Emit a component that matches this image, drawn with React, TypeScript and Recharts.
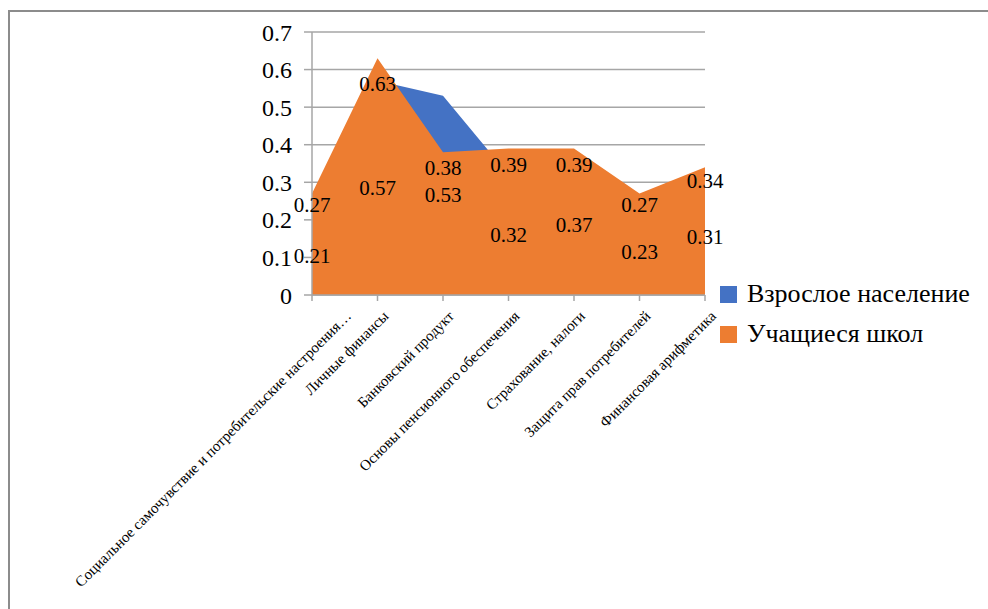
import { Area, AreaChart, CartesianGrid, LabelList, XAxis, YAxis } from "recharts";

const categories = [
  "Социальное самочувствие и потребительские настроения…",
  "Личные финансы",
  "Банковский продукт",
  "Основы пенсионного обеспечения",
  "Страхование, налоги",
  "Защита прав потребителей",
  "Финансовая арифметика",
];
const adults = [0.21, 0.57, 0.53, 0.32, 0.37, 0.23, 0.31];
const students = [0.27, 0.63, 0.38, 0.39, 0.39, 0.27, 0.34];
const yTicks = [0, 0.1, 0.2, 0.3, 0.4, 0.5, 0.6, 0.7];

const seriesNames = ["Взрослое население", "Учащиеся школ"];
const BLUE = "#4472C4";
const ORANGE = "#ED7D31";
const GRAY = "#a6a6a6";
const FONT =
  '"Times New Roman", Times, Tinos, "Liberation Serif", "Noto Serif", "DejaVu Serif", serif';

const W = 988;
const H = 609;
const PLOT_TOP = 32;
const PLOT_BOTTOM = 295;
const PLOT_LEFT = 312;
const PLOT_RIGHT = 705;
const X_AXIS_H = 300;

const data = categories.map((name, i) => ({
  name,
  adults: adults[i],
  students: students[i],
}));

// Excel puts area labels somewhere inside the filled area; approximate by a fraction of height
function makeLabel(frac: number) {
  return (props: any) => {
    const x = props.x ?? props.viewBox?.x;
    const y = props.y ?? props.viewBox?.y;
    if (x == null || y == null) return null;
    const ly = PLOT_BOTTOM - (PLOT_BOTTOM - y) * frac;
    return (
      <text
        x={x}
        y={ly}
        textAnchor="middle"
        dominantBaseline="central"
        style={{ fontSize: 21, fontFamily: FONT }}
        fill="#000"
      >
        {props.value}
      </text>
    );
  };
}

function CategoryTick(props: any) {
  const { x, y, payload, index } = props;
  const ax = x + 12 + (index === 0 ? 28 : 0);
  const ay = y + 16;
  return (
    <text
      x={ax}
      y={ay}
      transform={`rotate(-45, ${ax}, ${ay})`}
      textAnchor="end"
      style={{ fontSize: 15, fontFamily: FONT }}
      fill="#000"
    >
      {payload.value}
    </text>
  );
}

export default function App() {
  return (
    <div
      style={{
        position: "absolute",
        left: 0,
        top: 0,
        width: W,
        height: H,
        background: "#fff",
        fontFamily: FONT,
        overflow: "hidden",
      }}
    >
      <div
        style={{
          position: "absolute",
          left: 8,
          top: 10,
          right: -4,
          bottom: -4,
          borderTop: "2px solid #8c8c8c",
          borderLeft: "2px solid #8c8c8c",
        }}
      />
      <div style={{ position: "absolute", left: 0, top: 0 }}>
        <AreaChart
          width={W}
          height={H}
          data={data}
          style={{ fontFamily: FONT }}
          margin={{
            top: PLOT_TOP,
            right: W - PLOT_RIGHT,
            bottom: H - PLOT_BOTTOM - X_AXIS_H,
            left: 0,
          }}
        >
          <CartesianGrid vertical={false} stroke={GRAY} strokeWidth={1.5} />
          <XAxis
            dataKey="name"
            interval={0}
            height={X_AXIS_H}
            tickSize={6}
            tickMargin={0}
            stroke={GRAY}
            strokeWidth={1.5}
            tick={<CategoryTick />}
          />
          <YAxis
            width={PLOT_LEFT}
            domain={[0, 0.7]}
            ticks={yTicks}
            tickSize={8}
            tickMargin={12}
            stroke={GRAY}
            strokeWidth={1.5}
            tick={{ fontSize: 24, fill: "#000", fontFamily: FONT }}
          />
          <Area
            type="linear"
            dataKey="adults"
            name={seriesNames[0]}
            fill={BLUE}
            fillOpacity={1}
            stroke="none"
            dot={false}
            activeDot={false}
            isAnimationActive={false}
          />
          <Area
            type="linear"
            dataKey="students"
            name={seriesNames[1]}
            fill={ORANGE}
            fillOpacity={1}
            stroke="none"
            dot={false}
            activeDot={false}
            isAnimationActive={false}
          >
            <LabelList dataKey="students" content={makeLabel(0.89)} />
          </Area>
          {/* label-only layer so the blue labels sit on top of the orange fill */}
          <Area
            type="linear"
            dataKey="adults"
            fill="none"
            stroke="none"
            legendType="none"
            dot={false}
            activeDot={false}
            isAnimationActive={false}
          >
            <LabelList dataKey="adults" content={makeLabel(0.5)} />
          </Area>
        </AreaChart>
      </div>
      <div style={{ position: "absolute", left: 720, top: 274 }}>
        {seriesNames.map((n, i) => (
          <div
            key={n}
            style={{ display: "flex", alignItems: "center", height: 40 }}
          >
            <span
              style={{
                width: 17,
                height: 17,
                background: i === 0 ? BLUE : ORANGE,
                marginRight: 10,
                display: "inline-block",
              }}
            />
            <span style={{ fontSize: 26, color: "#000" }}>{n}</span>
          </div>
        ))}
      </div>
    </div>
  );
}
